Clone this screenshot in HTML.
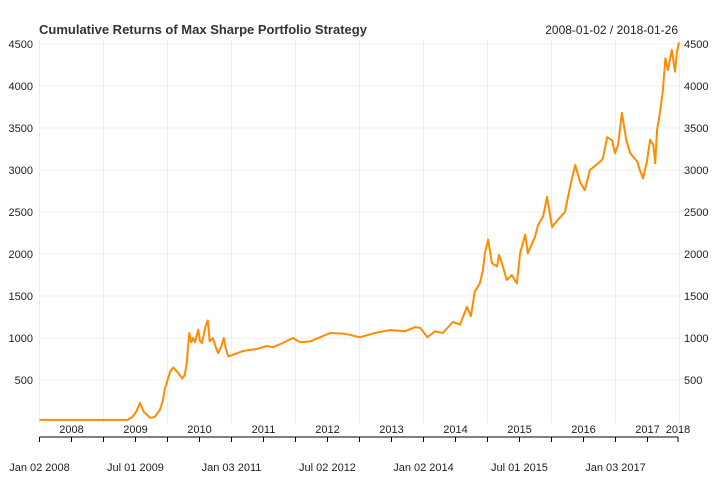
<!DOCTYPE html>
<html><head><meta charset="utf-8"><style>
body{margin:0;background:#fff;}
svg{display:block;font-family:"Liberation Sans",Arial,sans-serif;}
</style></head><body>
<svg id="chart" width="720" height="480" viewBox="0 0 720 480" xmlns="http://www.w3.org/2000/svg">
<rect width="720" height="480" fill="#fff"/>
<g id="grid"></g>
<g id="series"></g>
<g id="axes"></g>
<text x="39" y="34" font-size="13" font-weight="bold" fill="#333">Cumulative Returns of Max Sharpe Portfolio Strategy</text>
<text x="678" y="34" font-size="12" fill="#222" text-anchor="end">2008-01-02 / 2018-01-26</text>
</svg>
<script>
const times = [2008.00,2009.38,2009.45,2009.51,2009.57,2009.63,2009.73,2009.80,2009.88,2009.93,2009.96,2009.99,2010.04,2010.09,2010.15,2010.23,2010.27,2010.30,2010.34,2010.37,2010.40,2010.43,2010.48,2010.51,2010.54,2010.59,2010.63,2010.66,2010.71,2010.76,2010.79,2010.84,2010.88,2010.91,2010.95,2011.02,2011.18,2011.40,2011.55,2011.65,2011.80,2011.96,2012.07,2012.23,2012.54,2012.77,2013.01,2013.24,2013.48,2013.71,2013.87,2013.95,2014.06,2014.18,2014.30,2014.46,2014.57,2014.68,2014.74,2014.80,2014.88,2014.93,2014.96,2015.01,2015.07,2015.15,2015.18,2015.23,2015.30,2015.38,2015.46,2015.51,2015.59,2015.63,2015.74,2015.79,2015.87,2015.93,2016.01,2016.09,2016.21,2016.29,2016.37,2016.45,2016.52,2016.60,2016.73,2016.80,2016.87,2016.95,2016.99,2017.04,2017.10,2017.17,2017.23,2017.34,2017.38,2017.43,2017.49,2017.54,2017.59,2017.62,2017.65,2017.70,2017.74,2017.78,2017.82,2017.88,2017.93,2017.96,2017.99];
const values = [25,25,60,120,226,120,50,60,140,260,400,470,600,650,600,520,560,700,1060,950,1000,950,1100,960,940,1130,1210,960,1000,880,820,900,1000,880,780,800,845,870,905,890,940,1000,950,960,1060,1050,1010,1060,1095,1080,1130,1120,1010,1080,1060,1190,1160,1370,1260,1550,1650,1810,2010,2170,1890,1850,1990,1880,1690,1750,1650,2010,2230,2010,2200,2345,2450,2680,2320,2400,2500,2800,3060,2850,2760,3000,3080,3130,3390,3350,3200,3300,3680,3350,3200,3100,3000,2900,3100,3360,3300,3080,3480,3710,3950,4330,4190,4430,4170,4400,4520];
const yTicks = [500,1000,1500,2000,2500,3000,3500,4000,4500];
const yearLabels = ["2008","2009","2010","2011","2012","2013","2014","2015","2016","2017"];
const dateLabels = ["Jan 02 2008","Jul 01 2009","Jan 03 2011","Jul 02 2012","Jan 02 2014","Jul 01 2015","Jan 03 2017"];

const NS="http://www.w3.org/2000/svg";
const X0=39.5, PX=64, YB=422, PY=0.084, TOP=40, RIGHT=680;
function xs(t){return X0+(t-2008)*PX;}
function ys(v){return YB-v*PY;}
function mk(tag,attrs,parent,text){const e=document.createElementNS(NS,tag);for(const k in attrs)e.setAttribute(k,attrs[k]);if(text!=null)e.textContent=text;parent.appendChild(e);return e;}
const grid=document.getElementById('grid'), axes=document.getElementById('axes'), series=document.getElementById('series');

yTicks.forEach(v=>{
  const l=mk('line',{x1:X0,x2:RIGHT,y1:ys(v),y2:ys(v),stroke:'#ececec','stroke-width':1},grid);
  
  
  const a=mk('text',{x:33,y:ys(v)+4,'font-size':11,fill:'#222','text-anchor':'end'},axes,String(v));
  
  
  const b=mk('text',{x:684,y:ys(v)+4,'font-size':11,fill:'#222'},axes,String(v));
  
  
});
for(let i=0;i<=10;i++){
  const x=xs(2008+i);
  const l=mk('line',{x1:x,x2:x,y1:TOP,y2:YB+1,stroke:'#ececec','stroke-width':1},grid);
  
  
}
yearLabels.forEach((y,i)=>{
  const t=mk('text',{x:xs(2008+i+0.5),y:433,'font-size':11,fill:'#222','text-anchor':'middle'},axes,y);
  
  
});
const t18=mk('text',{x:678,y:433,'font-size':11,fill:'#222','text-anchor':'middle'},axes,'2018');



const ax=mk('line',{x1:X0,x2:678,y1:437,y2:437,stroke:'#000','stroke-width':1},axes);


for(let i=0;i<=20;i++){
  const x=Math.min(xs(2008+i*0.5),678);
  const tk=mk('line',{x1:x,x2:x,y1:437,y2:442,stroke:'#000','stroke-width':1},axes);
  
  
}
dateLabels.forEach((d,i)=>{
  const t=mk('text',{x:xs(2008+i*1.5),y:471,'font-size':11,fill:'#222','text-anchor':'middle'},axes,d);
  
  
});

const pts=times.map((t,i)=>xs(t).toFixed(1)+','+ys(values[i]).toFixed(1)).join(' ');
const line=mk('polyline',{points:pts,fill:'none',stroke:'#FF8C00','stroke-width':2,'stroke-linejoin':'round'},series);


</script>
</body></html>
